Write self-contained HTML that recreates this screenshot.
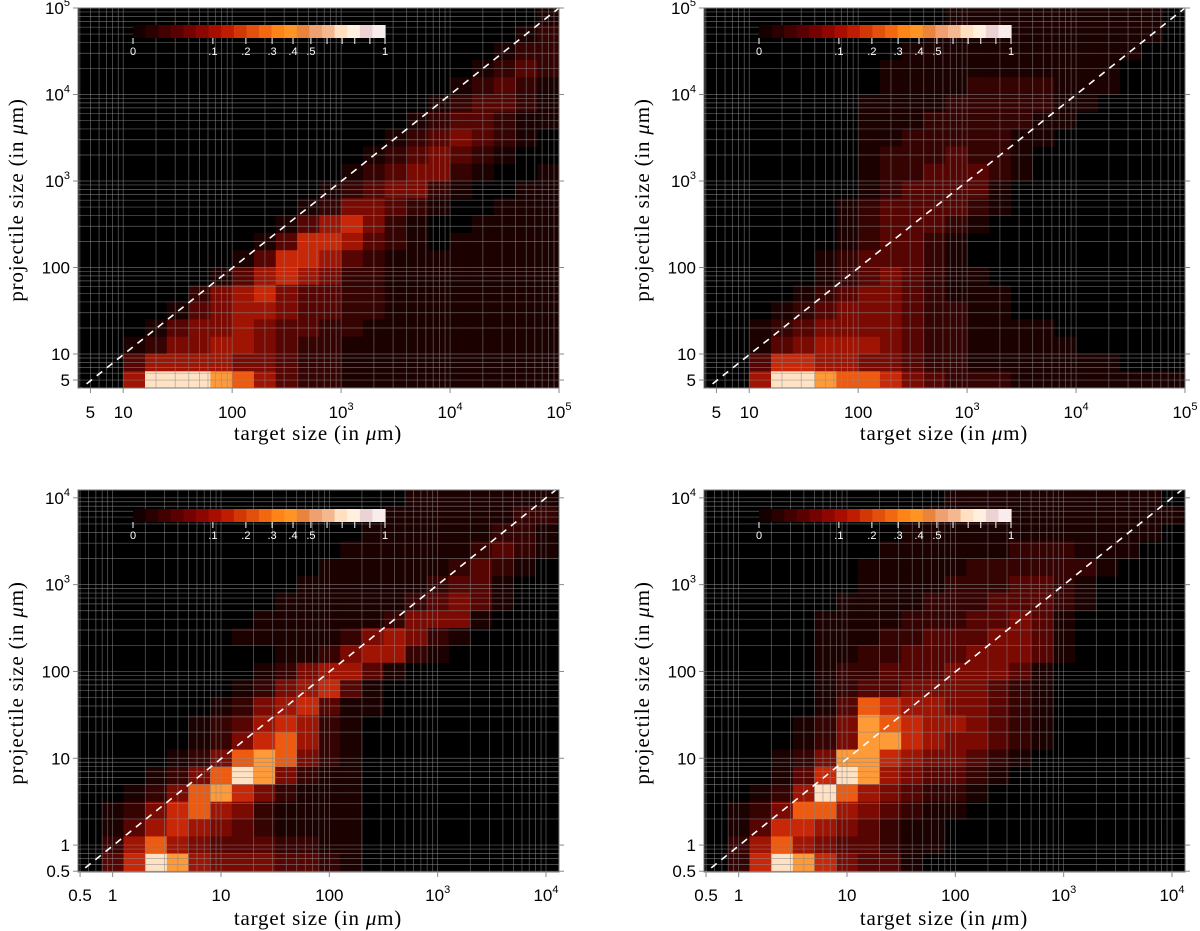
<!DOCTYPE html>
<html><head><meta charset="utf-8"><style>
html,body{margin:0;padding:0;background:#fff;width:1200px;height:931px;overflow:hidden}
svg text{font-family:"Liberation Sans",sans-serif}
.ttl{font-family:"Liberation Serif",serif;font-size:21px;fill:#000;letter-spacing:0.8px}
.tk{font-size:17px;fill:#000}
.cb{font-size:11px;fill:#fff}
</style></head><body>
<svg id="fig" width="1200" height="931" xmlns="http://www.w3.org/2000/svg"></svg>
<script>
// color levels (0..9) of heatmap cells
const palette = ["#000000","#1c0101","#360303","#560503","#7a0a02","#a01404","#c82808","#ee5a10","#ff9a38","#ffe2c4"];
// bins: 0.2 decades; rows listed top (largest projectile) -> bottom, columns left -> right
const gridTL = [
"0000000000000000000001",
"0000000000000000000012",
"0000000000000000000122",
"0000000000000000001232",
"0000000000000000012321",
"0000000000000000123321",
"0000000000000001233211",
"0000000000000012343210",
"0000000000000123432100",
"0000000000001234421001",
"0000000000012344210011",
"0000000000124432100111",
"0000000001356421001111",
"0000000013665321011111",
"0000000136653211111111",
"0000001356542211111111",
"0000024564332211111111",
"0000134554332211111111",
"0001344543322111111111",
"0012445543221111111111",
"0035555443221111111111",
"0059998753221111111111"];
const gridTR = [
"0000000000011111111110",
"0000000000111111111110",
"0000000001111111111100",
"0000000011111111111000",
"0000000011112222111000",
"0000000111122222110000",
"0000000111222221100000",
"0000000112222211000000",
"0000000122232210000000",
"0000000122333210000000",
"0000000123333100000000",
"0000001233332100000000",
"0000001233321000000000",
"0000001233210000000000",
"0000012333210000000000",
"0000012343211000000000",
"0000123443211100000000",
"0001234443221100000000",
"0012344443221111000000",
"0013455543221111100000",
"0036655443221111111000",
"0059987764322211111111"];
const gridBL = [
"0000000000000001111111",
"0000000000000011111122",
"0000000000000111111221",
"0000000000001111112321",
"0000000000011111123210",
"0000000000111111233100",
"0000000001111112343100",
"0000000011111124441000",
"0000000111112454210000",
"0000000001124552100000",
"0000000012455310000000",
"0000000124563100000000",
"0000001245631100000000",
"0000012356521000000000",
"0000012467521000000000",
"0000124787421000000000",
"0001247984211000000000",
"0012478642111000000000",
"0124675421111000000000",
"0135654321111000000000",
"0257543332211000000000",
"0369854443321000000000"];
const gridBR = [
"0000000000011111111110",
"0000000000111111111111",
"0000000001111111111110",
"0000000011111122211100",
"0000000111112222221000",
"0000000111122233210000",
"0000001111222333210000",
"0000011112223343100000",
"0000011122333443100000",
"0000011223334443100000",
"0000012233344431000000",
"0000012334444321000000",
"0000013765544321000000",
"0000124876554321000000",
"0000124886544321000000",
"0001248865443210000000",
"0001369854332100000000",
"0012597543221000000000",
"0124775432110000000000",
"0136654321100000000000",
"0257543321100000000000",
"0269864331000000000000"];
// colorbar: tick values and labels
const cbTicks = [0,0.1,0.2,0.3,0.4,0.5,0.6,0.7,0.8,0.9,1];
const cbLabels = ["0",".1",".2",".3",".4",".5","","","","","1"];
const cbTickFrac = [0,0.317,0.448,0.552,0.635,0.706,0.77,0.83,0.88,0.94,1];
const cbStops = ["#140000","#2a0000","#420000","#5a0000","#740200","#8e0600","#a80e00","#c01c02","#d23806","#e2500c","#f26810","#ff8418","#ff9424","#e8843c","#f0a070","#f4b890","#ffe0c0","#fff0e0","#ecd2d2","#f8ecec"];
// axis ticks
const topXTicks = [[0.699,"5"],[1,"10"],[2,"100"],[3,"10|3"],[4,"10|4"],[5,"10|5"]];
const topYTicks = [[0.699,"5"],[1,"10"],[2,"100"],[3,"10|3"],[4,"10|4"],[5,"10|5"]];
const botXTicks = [[-0.301,"0.5"],[0,"1"],[1,"10"],[2,"100"],[3,"10|3"],[4,"10|4"]];
const botYTicks = [[-0.301,"0.5"],[0,"1"],[1,"10"],[2,"100"],[3,"10|3"],[4,"10|4"]];

const NS="http://www.w3.org/2000/svg";
const svg=document.getElementById('fig');
function mk(tag,attrs,parent){const e=document.createElementNS(NS,tag);for(const k in attrs)e.setAttribute(k,attrs[k]);(parent||svg).appendChild(e);return e;}

const panels=[
 {id:'tl',L:78,T:8,W:481,H:380,x0:0.585,x1:5.0,y0:0.607,y1:5.0,g0:0.6,grid:gridTL,xt:topXTicks,yt:topYTicks,xl:412,xtitle:433,cbY:25},
 {id:'tr',L:704,T:8,W:481,H:380,x0:0.585,x1:5.0,y0:0.607,y1:5.0,g0:0.6,grid:gridTR,xt:topXTicks,yt:topYTicks,xl:412,xtitle:433,cbY:25},
 {id:'bl',L:78,T:490,W:481,H:382,x0:-0.32,x1:4.12,y0:-0.31,y1:4.09,g0:-0.3,grid:gridBL,xt:botXTicks,yt:botYTicks,xl:895,xtitle:918,cbY:509},
 {id:'br',L:704,T:490,W:481,H:382,x0:-0.32,x1:4.12,y0:-0.31,y1:4.09,g0:-0.3,grid:gridBR,xt:botXTicks,yt:botYTicks,xl:895,xtitle:918,cbY:509}
];

function label(g,x,y,s,anchor){
  const t=mk('text',{x:x,y:y,'text-anchor':anchor,class:'tk'},g);
  const parts=s.split('|');
  t.appendChild(document.createTextNode(parts[0]));
  if(parts[1]){const sp=mk('tspan',{dy:-8,'font-size':11},t);sp.textContent=parts[1];}
  return t;
}

panels.forEach(p=>{
  const sx=v=>p.L+(v-p.x0)/(p.x1-p.x0)*p.W;
  const sy=v=>p.T+p.H-(v-p.y0)/(p.y1-p.y0)*p.H;
  const g=mk('g',{});
  
  
  const cp=mk('clipPath',{id:'c'+p.id},g);
  mk('rect',{x:p.L,y:p.T,width:p.W,height:p.H},cp);
  const bg=mk('rect',{x:p.L,y:p.T,width:p.W,height:p.H,fill:'#000'},g);
  
  
  const hm=mk('g',{'clip-path':'url(#c'+p.id+')'},g);
  
  
  const n=p.grid.length;
  p.grid.forEach((row,ri)=>{
    const r=n-1-ri;
    const s=row.padEnd(22,'0');
    for(let c=0;c<s.length;c++){
      const lv=parseInt(s[c],10);
      if(!lv)continue;
      const xa=sx(p.g0+0.2*c),xb=sx(p.g0+0.2*(c+1));
      const ya=sy(p.g0+0.2*(r+1)),yb=sy(p.g0+0.2*r);
      const cell=mk('rect',{x:xa,y:ya,width:xb-xa+0.5,height:yb-ya+0.5,fill:palette[lv]},hm);
      
      
    }
  });
  const gl=mk('g',{stroke:'#8a8a8a','stroke-width':0.7,'stroke-opacity':0.7,'clip-path':'url(#c'+p.id+')'},g);
  
  
  for(let d=-1;d<=5;d++)for(let m=1;m<10;m++){
    const v=d+Math.log10(m);
    if(v>p.x0&&v<p.x1)mk('line',{x1:sx(v),x2:sx(v),y1:p.T,y2:p.T+p.H},gl);
    if(v>p.y0&&v<p.y1)mk('line',{y1:sy(v),y2:sy(v),x1:p.L,x2:p.L+p.W},gl);
  }
  const lo=Math.max(p.x0,p.y0),hi=Math.min(p.x1,p.y1);
  const dg=mk('line',{x1:sx(lo)-4,y1:sy(lo)+4,x2:sx(hi),y2:sy(hi),stroke:'#fff','stroke-width':1.6,'stroke-dasharray':'7,6','clip-path':'url(#c'+p.id+')'},g);
  
  
  const fr=mk('rect',{x:p.L,y:p.T,width:p.W,height:p.H,fill:'none',stroke:'#777','stroke-width':1},g);
  
  
  p.xt.forEach(t=>{const e=label(g,sx(t[0]),p.xl+6,t[1],'middle');
    
    
    mk('line',{x1:sx(t[0]),x2:sx(t[0]),y1:p.T+p.H,y2:p.T+p.H+5,stroke:'#888'},g);});
  p.yt.forEach(t=>{const e=label(g,p.L-8,sy(t[0])+6,t[1],'end');
    
    
    mk('line',{x1:p.L-5,x2:p.L,y1:sy(t[0]),y2:sy(t[0]),stroke:'#888'},g);
    mk('line',{x1:p.L+p.W,x2:p.L+p.W+5,y1:sy(t[0]),y2:sy(t[0]),stroke:'#888'},g);});
  const xtl=mk('text',{x:p.L+240,y:p.xtitle+7,'text-anchor':'middle',class:'ttl'},g);
  xtl.innerHTML='target size (in <tspan font-style="italic">μ</tspan>m)';
  
  
  const cy=p.T+p.H/2+2;
  const ytl=mk('text',{x:0,y:0,'text-anchor':'middle',class:'ttl',transform:`translate(${p.L-55},${cy}) rotate(-90)`},g);
  ytl.innerHTML='projectile size (in <tspan font-style="italic">μ</tspan>m)';
  
  
  const cb=mk('g',{},g);
  
  
  const cbx=p.L+55,cbw=252;
  cbStops.forEach((c,i)=>{
    const a=cbx+i*cbw/cbStops.length;
    mk('rect',{x:a,y:p.cbY,width:cbw/cbStops.length+0.6,height:13,fill:c},cb);
  });
  cbTicks.forEach((v,i)=>{
    const x=cbx+cbTickFrac[i]*cbw;
    mk('line',{x1:x,x2:x,y1:p.cbY+13,y2:p.cbY+19,stroke:'#fff','stroke-width':1},cb);
    if(cbLabels[i]){const t=mk('text',{x:x,y:p.cbY+30,'text-anchor':'middle',class:'cb'},cb);t.textContent=cbLabels[i];}
  });
});
</script>
</body></html>
